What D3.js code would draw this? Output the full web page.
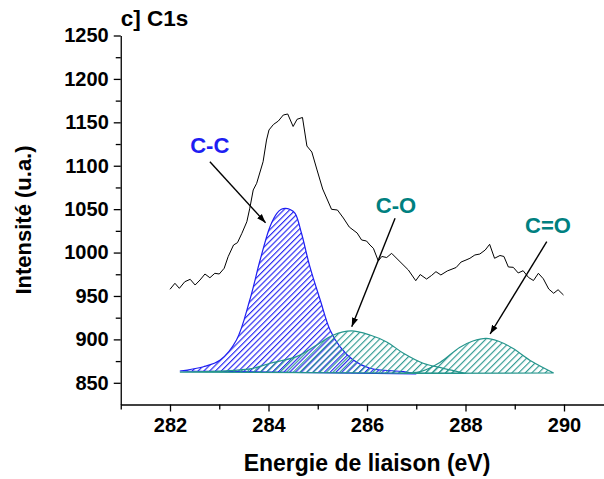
<!DOCTYPE html>
<html>
<head>
<meta charset="utf-8">
<script src="https://cdn.jsdelivr.net/npm/d3@7/dist/d3.min.js"></script>
<style>
  html, body { margin: 0; padding: 0; background: #fff; }
  svg { display: block; }
  text { font-family: "Liberation Sans", Arial, sans-serif; font-weight: bold; }
</style>
</head>
<body>
<svg id="chart" width="604" height="479"></svg>
<script>
// ---- Data ----
const specX = [282.00,282.10,282.19,282.30,282.41,282.51,282.61,282.71,282.81,282.91,
  283.00,283.10,283.18,283.29,283.37,283.46,283.56,283.62,283.69,283.76,
  283.89,283.96,284.01,284.10,284.20,284.30,284.39,284.50,284.58,284.69,
  284.78,284.88,284.98,285.10,285.28,285.40,285.52,285.64,285.80,285.89,
  285.99,286.06,286.13,286.23,286.30,286.40,286.50,286.67,286.84,286.99,
  287.08,287.21,287.31,287.40,287.50,287.63,287.81,287.91,288.01,288.09,
  288.19,288.29,288.40,288.49,288.59,288.70,288.78,288.87,288.97,289.07,
  289.17,289.28,289.38,289.48,289.58,289.69,289.79,289.88,289.99];
const specY = [957.7,964.6,958.8,966.4,969.2,962.6,968.4,975.3,971.0,976.1,
  975.3,981.9,995.2,1008.7,1011.4,1022.2,1035.5,1051.0,1072.1,1079.8,
  1104.6,1129.6,1141.2,1147.5,1151.5,1158.4,1159.6,1145.2,1153.5,1155.6,
  1122.7,1115.8,1096.2,1073.2,1049.8,1049.0,1039.8,1029.4,1022.5,1014.5,
  1013.3,1008.7,1004.9,990.3,995.5,994.3,999.1,989.5,979.9,967.6,
  974.7,969.5,973.6,978.0,974.2,978.8,982.8,989.1,991.4,993.4,
  997.2,998.3,1002.9,1009.5,993.4,996.6,995.5,983.4,983.0,976.5,
  979.1,971.3,967.8,976.1,969.8,958.0,953.1,957.2,951.1];

// C-C component
const ccX = [282.20,282.68,283.02,283.35,283.62,283.83,284.03,284.17,284.26,284.34,284.44,284.54,284.67,284.84,285.05,285.25,285.45,285.72,286.06,286.74,287.00];
const ccY = [863.6,868.5,876.3,899.3,945.4,991.4,1029.8,1045.2,1049.8,1051.0,1049.6,1045.2,1022.2,983.7,945.4,910.8,891.6,876.3,866.7,862.8,860.1];
// C-O component
const coX = [282.20,283.02,283.69,284.03,284.57,284.98,285.32,285.68,286.06,286.40,286.74,287.14,287.55,288.00];
const coY = [862.4,863.5,866.7,872.5,880.1,893.5,905.0,909.7,905.0,897.0,884.0,872.5,866.7,860.9];
// C=O component
const ceX = [286.67,287.08,287.48,287.88,288.15,288.42,288.66,288.95,289.35,289.79];
const ceY = [860.9,862.8,873.4,890.7,898.1,901.2,898.1,890.1,874.5,861.3];

const xTicks = [282, 284, 286, 288, 290];
const xMinor = [281, 283, 285, 287, 289];
const yTicks = [850, 900, 950, 1000, 1050, 1100, 1150, 1200, 1250];
const yMinor = [875, 925, 975, 1025, 1075, 1125, 1175, 1225];

const labels = ["C-C", "C-O", "C=O"];
const labelX = [282.41, 286.18, 289.21];
const labelY = [1114.3, 1045.9, 1022.9];
const arrowFrom = [[282.81, 1104.7], [286.57, 1039.5], [289.65, 1012.5]];
const arrowTo   = [[283.94, 1034.4], [285.69, 914.6], [288.50, 906.2]];

const title = "c] C1s";
const xTitle = "Energie de liaison (eV)";
const yTitle = "Intensité (u.a.)";

// ---- Layout ----
const svg = d3.select("#chart");
const x = d3.scaleLinear().domain([281, 291]).range([120.75, 613.25]);
const y = d3.scaleLinear().domain([825, 1250]).range([404.5, 35.5]);

const BLUE = "#1e1ef2", TEAL = "#25958c", TEAL_TXT = "#008080";

const defs = svg.append("defs");
function hatch(id, color, step) {
  const p = defs.append("pattern").attr("id", id)
    .attr("patternUnits", "userSpaceOnUse")
    .attr("width", step).attr("height", step)
    .attr("patternTransform", "rotate(45)");
  p.append("line").attr("x1", 0.6).attr("y1", 0).attr("x2", 0.6).attr("y2", step)
    .attr("stroke", color).attr("stroke-width", 1.1);
}
hatch("hBlue", BLUE, 4.1);
hatch("hTeal", TEAL, 4.7);
defs.append("marker").attr("id", "arr").attr("viewBox", "0 0 10 10")
  .attr("refX", 10).attr("refY", 5).attr("markerWidth", 9).attr("markerHeight", 9)
  .attr("markerUnits", "userSpaceOnUse").attr("orient", "auto")
  .append("path").attr("d", "M0,1.5 L10,5 L0,8.5 Z").attr("fill", "#000");

const line = d3.line().x(d => x(d[0])).y(d => y(d[1])).curve(d3.curveCatmullRom.alpha(0.5));
function comp(xs, ys, pat, col) {
  const pts = xs.map((v, i) => [v, ys[i]]);
  svg.append("path").attr("d", line(pts) + "Z")
    .attr("fill", `url(#${pat})`).attr("stroke", col).attr("stroke-width", 1.2);
}
comp(ccX, ccY, "hBlue", BLUE);
comp(coX, coY, "hTeal", TEAL);
comp(ceX, ceY, "hTeal", TEAL);

// spectrum
const spec = specX.map((v, i) => [v, specY[i]]);
svg.append("path").attr("d", d3.line().x(d => x(d[0])).y(d => y(d[1]))(spec))
  .attr("fill", "none").attr("stroke", "#000").attr("stroke-width", 1);

// axes
const ax = svg.append("g").attr("transform", `translate(0,${y(825)})`)
  .call(d3.axisBottom(x).tickValues(xTicks).tickSize(7).tickSizeOuter(0).tickPadding(6).tickFormat(d3.format("d")));
svg.append("g").attr("transform", `translate(0,${y(825)})`)
  .call(d3.axisBottom(x).tickValues(xMinor).tickSize(5).tickFormat("")).select(".domain").remove();
const ay = svg.append("g").attr("transform", `translate(${x(281)},0)`)
  .call(d3.axisLeft(y).tickValues(yTicks).tickSize(7).tickSizeOuter(0).tickPadding(5).tickFormat(d3.format("d")));
svg.append("g").attr("transform", `translate(${x(281)},0)`)
  .call(d3.axisLeft(y).tickValues(yMinor).tickSize(5).tickFormat("")).select(".domain").remove();
svg.selectAll(".domain, .tick line").attr("stroke", "#000").attr("stroke-width", 1.3);
ax.selectAll("text").attr("font-size", 20).attr("fill", "#000").attr("font-family", null);
ay.selectAll("text").attr("font-size", 20).attr("fill", "#000").attr("font-family", null);

// titles
svg.append("text").attr("x", x(281)).attr("y", 26).attr("font-size", 22.5).text(title);
svg.append("text").attr("x", (x(281) + x(291)) / 2).attr("y", 471).attr("text-anchor", "middle")
  .attr("font-size", 23).text(xTitle);
svg.append("text").attr("transform", `translate(31,${(y(825) + y(1250)) / 2}) rotate(-90)`)
  .attr("text-anchor", "middle").attr("font-size", 22).text(yTitle);

// annotations
const cols = [BLUE, TEAL_TXT, TEAL_TXT];
labels.forEach((t, i) => {
  svg.append("text").attr("x", x(labelX[i])).attr("y", y(labelY[i])).attr("font-size", 22)
    .attr("fill", cols[i]).text(t);
  svg.append("line").attr("x1", x(arrowFrom[i][0])).attr("y1", y(arrowFrom[i][1]))
    .attr("x2", x(arrowTo[i][0])).attr("y2", y(arrowTo[i][1]))
    .attr("stroke", "#000").attr("stroke-width", 1.4).attr("marker-end", "url(#arr)");
});
</script>
</body>
</html>
